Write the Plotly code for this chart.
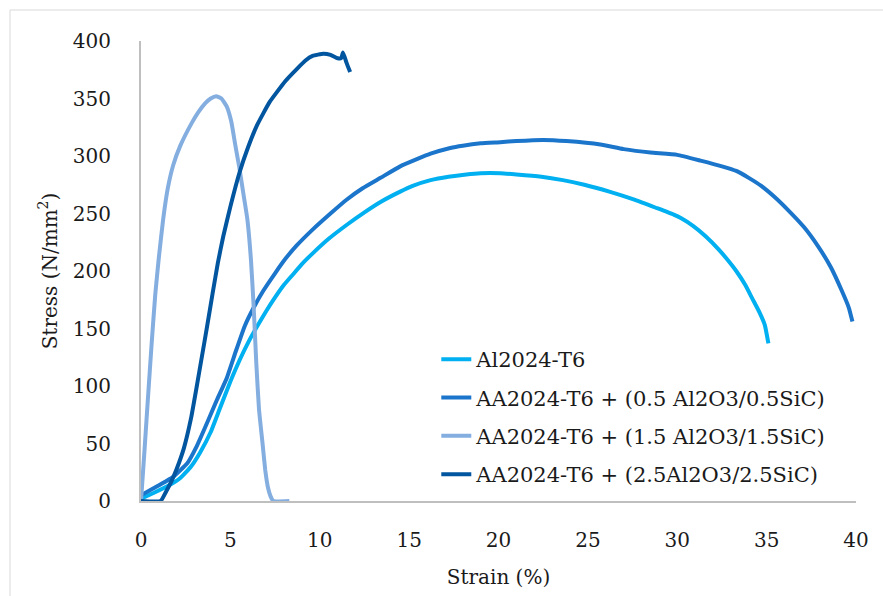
import plotly.graph_objects as go

names = [
    "Al2024-T6",
    "AA2024-T6 + (0.5 Al2O3/0.5SiC)",
    "AA2024-T6 + (1.5 Al2O3/1.5SiC)",
    "AA2024-T6 + (2.5Al2O3/2.5SiC)",
]
colors = ["#00B0F0", "#1B75CB", "#84AEE0", "#02559F"]

# Al2024-T6
s1_x = [0, 0.7, 1.5, 2.2, 2.8, 3.3, 3.9, 4.4, 5.0, 5.5, 6.0, 6.5, 7.0, 7.5, 8.0, 8.5, 9.0, 9.65,
        10.5, 11.5, 12.5, 13.4, 14.5, 15.2, 16.2, 17.2, 18.2, 19.0, 20.1, 21.0, 22.4, 23.6,
        24.8, 26.2, 27.6, 28.8, 29.8, 30.2, 30.9, 31.6, 32.3, 32.8, 33.3, 33.8, 34.2, 34.6,
        34.9, 35.1]
s1_y = [2, 7, 13, 20, 30, 42, 60, 80, 104, 122, 138, 152, 165, 177, 188, 197, 206, 216,
        228, 240, 251, 260, 269, 274, 279, 282, 284, 285, 285, 284, 282, 279,
        275, 269, 262, 255, 249, 246, 239, 230, 219, 210, 200, 188, 176, 164,
        153, 137]

# AA2024-T6 + (0.5 Al2O3/0.5SiC)
s2_x = [0, 0.7, 1.8, 2.6, 3.1, 3.7, 4.25, 4.8, 5.3, 5.8, 6.3, 6.85, 7.5, 8.1, 8.7, 9.6, 10.6,
        11.5, 12.4, 13.4, 14.5, 15.4, 16.2, 17.3, 18.0, 19.0, 20.1, 21.0, 22.5, 23.8, 25.7,
        27.0, 28.5, 30.0, 31.3, 32.5, 33.3, 34.0, 34.7, 35.4, 36.2, 37.1, 37.9, 38.6, 39.2,
        39.6, 39.8]
s2_y = [5, 11, 21, 33, 47, 68, 88, 107, 130, 152, 168, 183, 198, 211, 222, 236, 250,
        262, 272, 281, 291, 297, 302, 307, 309, 311, 312, 313, 314, 313, 310,
        306, 303, 301, 296, 291, 287, 281, 274, 265, 253, 238, 221, 203, 183,
        168, 156]

# AA2024-T6 + (1.5 Al2O3/1.5SiC)
s3_x = [0, 0.2, 0.4, 0.6, 0.8, 1.0, 1.24, 1.5, 1.8, 2.2, 2.85, 3.2, 3.6, 3.9, 4.2, 4.5,
        4.8, 5.05, 5.27, 5.5, 5.75, 5.95, 6.15, 6.3, 6.45, 6.6, 6.8, 6.95, 7.1, 7.25, 7.4, 8.3]
s3_y = [0, 45, 92, 138, 180, 212, 245, 272, 292, 309, 329, 338, 346, 350, 352, 350,
        343, 330, 310, 290, 265, 245, 210, 170, 120, 80, 50, 27, 12, 4, 0, 0]

# AA2024-T6 + (2.5Al2O3/2.5SiC)
s4_x = [0, 1.1, 1.4, 1.7, 2.0, 2.4, 2.8, 3.1, 3.4, 3.7, 4.0, 4.3, 4.6, 5.0, 5.5, 6.0, 6.5,
        7.2, 8.07, 8.74, 9.2, 9.6, 10.2, 10.6, 11.0, 11.2, 11.3, 11.5, 11.7]
s4_y = [0, 0, 8, 17, 28, 46, 72, 98, 125, 152, 180, 207, 230, 256, 285, 308, 327,
        347, 365, 376, 383, 387, 389, 388, 385, 385, 390, 381, 373]

xs = [s1_x, s2_x, s3_x, s4_x]
ys = [s1_y, s2_y, s3_y, s4_y]

FONT = "Palatino Linotype, Book Antiqua, Palatino, DejaVu Serif, serif"

fig = go.Figure()
for i in range(4):
    fig.add_trace(go.Scatter(
        x=xs[i], y=ys[i], mode="lines", name=names[i],
        legendgroup=f"g{i}",
        line=dict(color=colors[i], width=4, shape="spline", smoothing=0.4),
    ))

fig.update_layout(
    width=883, height=596,
    paper_bgcolor="white", plot_bgcolor="white",
    margin=dict(l=141, r=27, t=41, b=95),
    font=dict(family=FONT, size=20, color="#1a1a1a"),
    showlegend=True,
    legend=dict(
        x=0.413, y=0.352, xanchor="left", yanchor="top",
        bgcolor="rgba(0,0,0,0)", tracegroupgap=8,
        font=dict(family=FONT, size=21, color="#1a1a1a"),
    ),
    xaxis=dict(
        range=[0, 40], tickvals=[0, 5, 10, 15, 20, 25, 30, 35, 40],
        showgrid=False, zeroline=False, showline=True, linecolor="#BFBFBF", linewidth=2,
        ticks="", ticklabelstandoff=20,
        title=dict(text="Strain (%)", standoff=19, font=dict(size=20)),
    ),
    yaxis=dict(
        range=[0, 400], tickvals=[0, 50, 100, 150, 200, 250, 300, 350, 400],
        showgrid=False, zeroline=False, showline=True, linecolor="#BFBFBF", linewidth=2,
        ticks="", ticklabelstandoff=24,
        title=dict(text="Stress (N/mm<sup>2</sup>)", standoff=10, font=dict(size=20)),
    ),
    shapes=[
        dict(type="rect", xref="paper", yref="paper",
             x0=(10 - 141) / 715, x1=1.2, y0=-0.3, y1=(501 - 10) / 460,
             line=dict(color="#D9D9D9", width=1), layer="below"),
    ],
)

fig.write_html("out.html")
